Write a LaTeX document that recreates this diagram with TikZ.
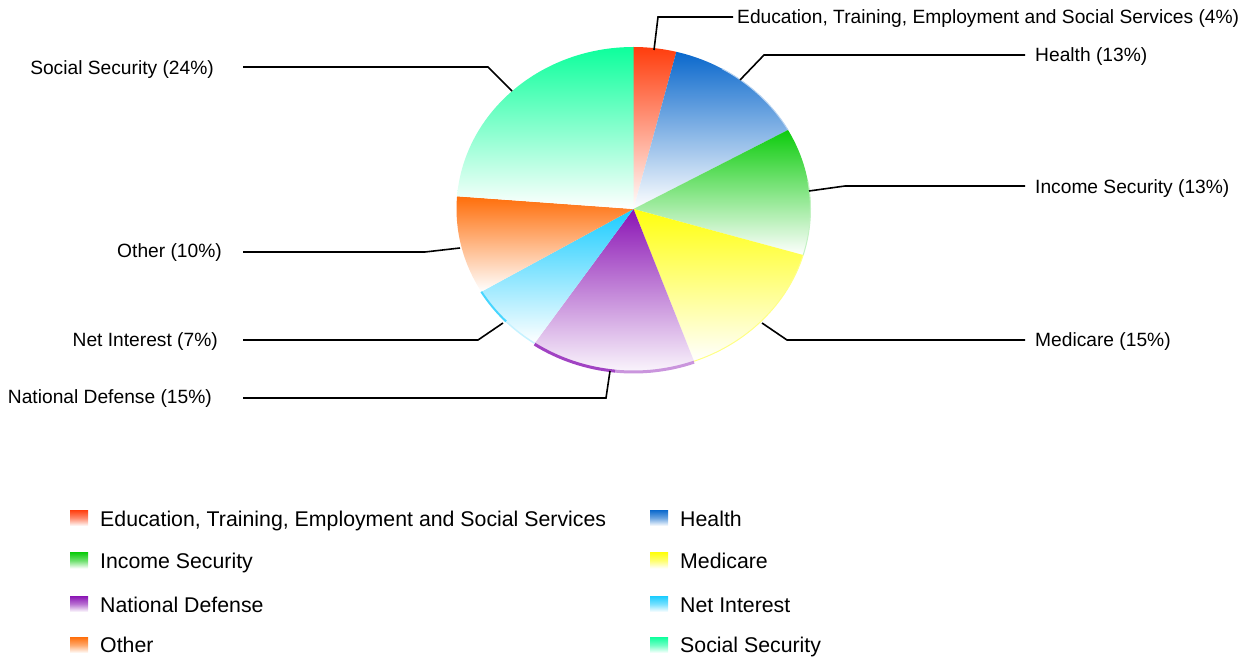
\documentclass[tikz,border=0pt]{standalone}
\usepackage{fontspec}
\setmainfont{Liberation Sans}
\definecolor{cEdu}{HTML}{FF3D0D}
\definecolor{cHealth}{HTML}{0A68CC}
\definecolor{cIncome}{HTML}{0DCC0D}
\definecolor{cMed}{HTML}{FFFF0D}
\definecolor{cND}{HTML}{8A14B4}
\definecolor{cNI}{HTML}{1ACCFF}
\definecolor{cOther}{HTML}{FF6E0A}
\definecolor{cSoc}{HTML}{0DFF9C}
\tikzset{
  lbl/.style={font=\fontsize{19.2}{22}\selectfont, inner sep=0pt},
  leg/.style={font=\fontsize{21.3}{24}\selectfont, inner sep=0pt, anchor=base west},
  leader/.style={draw=black, line width=1.6pt},
  swatch/.style={minimum width=18pt, minimum height=16pt, inner sep=0pt}
}
\newcommand{\slice}[3]{%
  \shade[top color=#1, bottom color=white, shading angle=0]
    (0,0) -- (#2:177 and 162) arc[start angle=#2, end angle=#3, x radius=177, y radius=162] -- cycle;}
\begin{document}
\begin{tikzpicture}[x=1pt,y=-1pt]
\useasboundingbox (0,0) rectangle (1242,658);
% pie
\begin{scope}[shift={(633.5,209)}]
  \slice{cEdu}{-90}{-76}
  \slice{cHealth}{-76}{-29.2}
  \slice{cIncome}{-29.2}{16.5}
  \slice{cMed}{16.5}{70}
  \slice{cND}{70}{124}
  \slice{cNI}{124}{149.3}
  \slice{cOther}{149.3}{184.5}
  \slice{cSoc}{184.5}{270}
  % rims
  \draw[line width=3pt, cND!45] (96:177 and 163) arc[start angle=96, end angle=70, x radius=177, y radius=163];
  \draw[line width=3pt, cND!80] (124:177 and 163) arc[start angle=124, end angle=96, x radius=177, y radius=163];
  \draw[line width=2pt, cNI!80] (149.3:177 and 162) arc[start angle=149.3, end angle=136, x radius=177, y radius=162];
  \draw[line width=1.5pt, cNI!25] (136:177 and 162) arc[start angle=136, end angle=124, x radius=177, y radius=162];
  \draw[line width=1pt, cHealth!30] (-60:177 and 162) arc[start angle=-60, end angle=-29.2, x radius=177, y radius=162];
  \draw[line width=1pt, cMed!50] (16.5:177 and 162) arc[start angle=16.5, end angle=70, x radius=177, y radius=162];
  \draw[line width=1pt, cIncome!25] (-10:177 and 162) arc[start angle=-10, end angle=16.5, x radius=177, y radius=162];
\end{scope}
% anchor points on the pie and bends
\coordinate (pEdu) at (654,50);    \coordinate (bEdu) at (658,17);
\coordinate (pHealth) at (740,80); \coordinate (bHealth) at (764,55);
\coordinate (pIncome) at (809,191);\coordinate (bIncome) at (845,186);
\coordinate (pMed) at (762,323);   \coordinate (bMed) at (787,340);
\coordinate (pND) at (610,371);    \coordinate (bND) at (606,398);
\coordinate (pNI) at (503,323);    \coordinate (bNI) at (478,340);
\coordinate (pOther) at (460,248); \coordinate (bOther) at (425,252);
\coordinate (pSoc) at (512,91);    \coordinate (bSoc) at (488,67);
% labels
\node[lbl, anchor=base west] (lEdu) at (737,24) {Education, Training, Employment and Social Services (4\%)};
\node[lbl, anchor=base west] (lHealth) at (1035,62) {Health (13\%)};
\node[lbl, anchor=base west] (lIncome) at (1035,193) {Income Security (13\%)};
\node[lbl, anchor=base west] (lMed) at (1035,346) {Medicare (15\%)};
\node[lbl, anchor=base east] (lSoc) at (214,75) {Social Security (24\%)};
\node[lbl, anchor=base east] (lOther) at (222,257) {Other (10\%)};
\node[lbl, anchor=base east] (lNI) at (218,346) {Net Interest (7\%)};
\node[lbl, anchor=base east] (lND) at (212,403) {National Defense (15\%)};
% leaders
\draw[leader] (pEdu) -- (bEdu) -- ([xshift=-4pt]lEdu.west |- bEdu);
\draw[leader] (pHealth) -- (bHealth) -- ([xshift=-10pt]lHealth.west |- bHealth);
\draw[leader] (pIncome) -- (bIncome) -- ([xshift=-10pt]lIncome.west |- bIncome);
\draw[leader] (pMed) -- (bMed) -- ([xshift=-10pt]lMed.west |- bMed);
\draw[leader] (pSoc) -- (bSoc) -- ([xshift=29pt]lSoc.east |- bSoc);
\draw[leader] (pOther) -- (bOther) -- ([xshift=21pt]lOther.east |- bOther);
\draw[leader] (pNI) -- (bNI) -- ([xshift=25pt]lNI.east |- bNI);
\draw[leader] (pND) -- (bND) -- ([xshift=31pt]lND.east |- bND);
% legend
\foreach \c/\t/\x/\y/\b/\n in {cEdu/{Education, Training, Employment and Social Services}/79/518/526/a,
  cHealth/Health/659/518/526/b, cIncome/Income Security/79/560.5/568.6/c, cMed/Medicare/659/560.5/568.6/d,
  cND/National Defense/79/604/612.6/e, cNI/Net Interest/659/604/612.6/f, cOther/Other/79/645/652.6/g, cSoc/Social Security/659/645/652.6/h}{
  \node[swatch, top color=\c, bottom color=white, middle color=\c!60] (s\n) at (\x,\y) {};
  \node[leg] (t\n) at (\x+21,\b) {\t};
}
\end{tikzpicture}
\end{document}
